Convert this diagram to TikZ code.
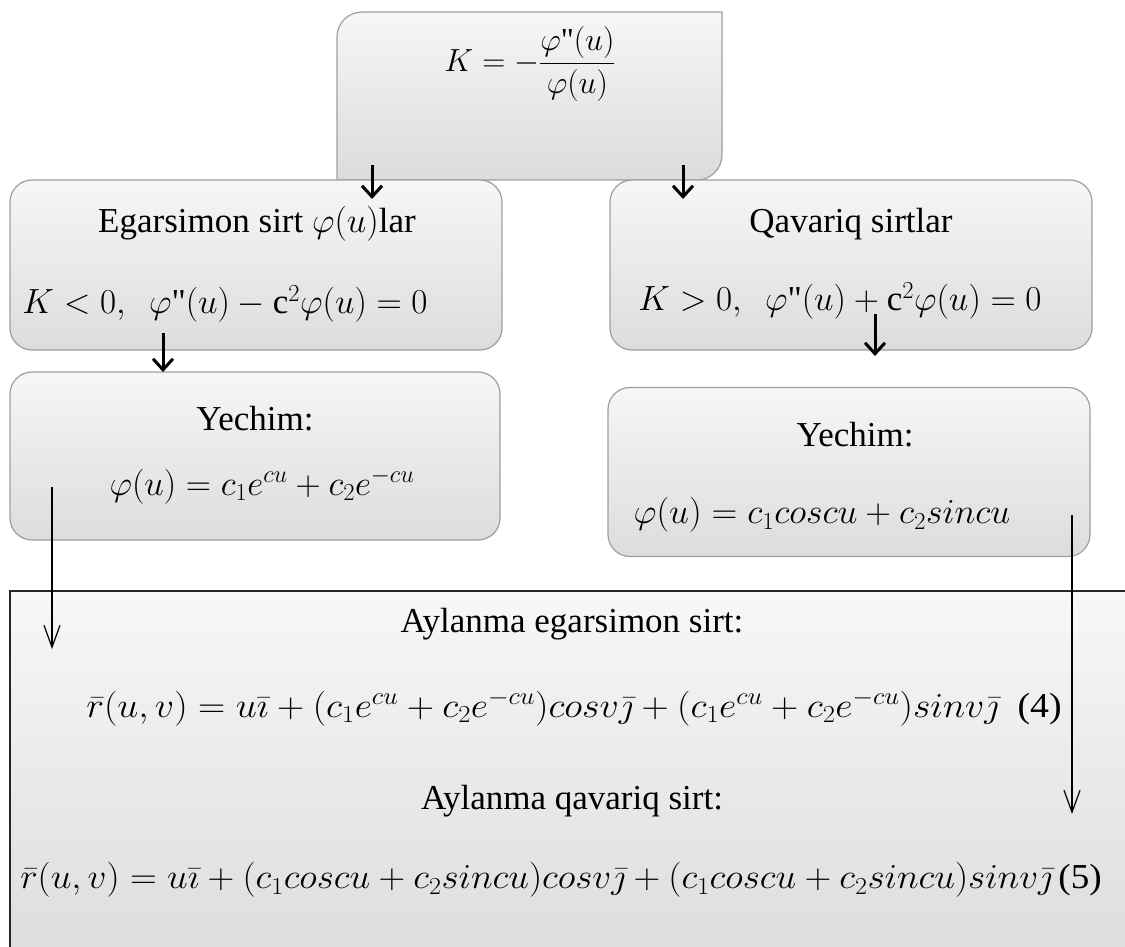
\RequirePackage{fix-cm}
\documentclass[tikz,border=0pt]{standalone}
\usepackage{amsmath}
\usepackage{fontspec}
\setmainfont{Liberation Serif}
\newfontfamily\tnr{Liberation Serif}
\usetikzlibrary{arrows.meta}
\newcommand{\dq}{\text{\textquotedbl}}
\newcommand{\uc}{\text{\tnr c}}
\tikzset{
  x=1pt,y=-1pt,
  rbox/.style={draw=gray!75, line width=1.2pt, rounded corners=22pt, top color=gray!7, bottom color=gray!27, inner sep=0pt},
  lbl/.style={inner sep=0pt, font=\fontsize{35}{40}\selectfont},
  eq/.style={inner sep=0pt, font=\fontsize{35}{40}\selectfont},
  thickarr/.style={line width=3pt, -{Straight Barb[length=11pt,width=20pt]}},
  thinarr/.style={line width=1.2pt, -{Straight Barb[length=22pt,width=16pt]}},
}
\begin{document}
\begin{tikzpicture}
\useasboundingbox (0,0) rectangle (1125,947);
\clip (0,0) rectangle (1125,947);
% bottom panel
\node[draw=black!85, line width=1.6pt, top color=gray!6, bottom color=gray!27, minimum width=1140pt, minimum height=370pt, anchor=north west, inner sep=0pt] (panel) at (9,590) {};
% top box with two rounded diagonal corners
\path[draw=gray!75, line width=1.2pt, top color=gray!7, bottom color=gray!28]
  (337,180) -- (337,37) arc[start angle=180,end angle=270,radius=25]
  -- (722,12) -- (722,155) arc[start angle=0,end angle=90,radius=25] -- cycle;
\node[inner sep=0pt, minimum width=385pt, minimum height=168pt, anchor=north west] (top) at (337,12) {};
\node[eq, font=\fontsize{32}{38}\selectfont] (kform) at (530,64) {$K=-\dfrac{\varphi\dq(u)}{\varphi(u)}$};
% level 1 boxes
\node[rbox, minimum width=492pt, minimum height=170pt] (lb1) at (256,265) {};
\node[rbox, minimum width=482pt, minimum height=170pt] (rb1) at (851,265) {};
\node[lbl] (lt1) at (257,224) {Egarsimon sirt $\varphi(u)$lar};
\node[eq] (lf1) at (225,304) {$K<0,\ \ \varphi\dq(u)-\uc^2\varphi(u)=0$};
\node[lbl] (rt1) at (851,224) {Qavariq sirtlar};
\node[eq] (rf1) at (840,301) {$K>0,\ \ \varphi\dq(u)+\uc^2\varphi(u)=0$};
% level 2 boxes
\node[rbox, minimum width=490pt, minimum height=168pt] (lb2) at (255,456) {};
\node[rbox, minimum width=482pt, minimum height=169pt] (rb2) at (849,472) {};
\node[lbl] (lt2) at (255,419) {Yechim:};
\node[eq] (lf2) at (262,486) {$\varphi(u)=c_1e^{cu}+c_2e^{-cu}$};
\node[lbl] (rt2) at (855,435) {Yechim:};
\node[eq] (rf2) at (822,515) {\scalebox{1.02}[1]{$\varphi(u)=c_1coscu+c_2sincu$}};
% bottom panel texts
\node[lbl] (bt1) at (572,624) {Aylanma egarsimon sirt:};
\node[eq] (bf1) at (574,708) {\scalebox{1.08}[1]{$\bar r(u,v)=u\bar\imath+(c_1e^{cu}+c_2e^{-cu})cosv\bar\jmath+(c_1e^{cu}+c_2e^{-cu})sinv\bar\jmath$\ \ {\tnr(4)}}};
\node[lbl] (bt2) at (572,801) {Aylanma qavariq sirt:};
\node[eq] (bf2) at (561,880) {\scalebox{1.06}[1]{$\bar r(u,v)=u\bar\imath+(c_1coscu+c_2sincu)cosv\bar\jmath+(c_1coscu+c_2sincu)sinv\bar\jmath$\,{\tnr(5)}}};
% connectors
\coordinate (a1s) at (372,165); \coordinate (a1e) at (372,199);
\coordinate (a2s) at (683,165); \coordinate (a2e) at (683,199);
\coordinate (a3s) at (163,333); \coordinate (a3e) at (163,372);
\coordinate (a4s) at (875,314); \coordinate (a4e) at (875,356);
\coordinate (a5s) at (52,487); \coordinate (a5e) at (52,649);
\coordinate (a6s) at (1072,515); \coordinate (a6e) at (1072,814);
\draw[thickarr] (a1s) -- (a1e);
\draw[thickarr] (a2s) -- (a2e);
\draw[thickarr] (a3s) -- (a3e);
\draw[thickarr] (a4s) -- (a4e);
\draw[thinarr] (a5s) -- (a5e);
\draw[thinarr] (a6s) -- (a6e);
\end{tikzpicture}
\end{document}
